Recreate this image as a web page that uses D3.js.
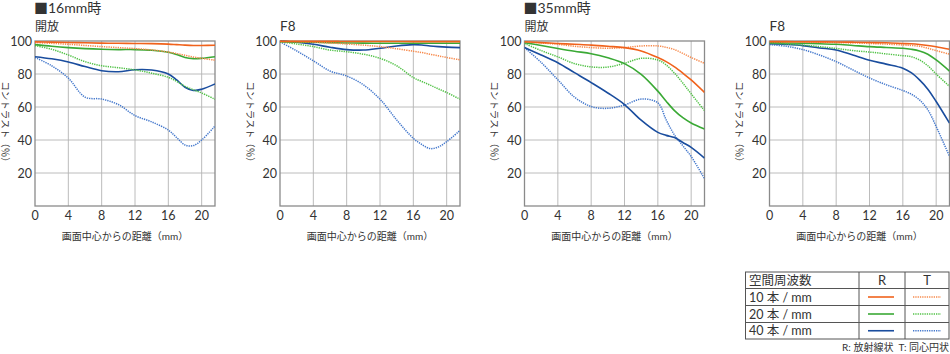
<!DOCTYPE html>
<html>
<head>
<meta charset="utf-8">
<script src="https://cdn.jsdelivr.net/npm/d3@7"></script>
<style>
    body { margin: 0; background: #fff; }
    text { font-family: Lato, "Noto Sans CJK JP", sans-serif; fill: #333; }
</style>
</head>
<body>
<script>
// distance from image centre (mm) where each curve was read
const distances = [0, 2, 4, 6, 8, 10, 12, 14, 16, 17, 18, 19, 20, 21.6];

// 16mm, wide open
const w16Open10R = [99.5, 99.3, 99.1, 98.9, 98.7, 98.6, 98.5, 98.4, 98.1, 97.8, 97.5, 97.3, 97.3, 97.4];
const w16Open10T = [99.0, 98.6, 98.0, 97.3, 96.6, 96.0, 95.4, 94.6, 93.3, 92.4, 91.3, 90.3, 89.5, 88.4];
const w16Open20R = [97.8, 96.8, 96.0, 95.4, 95.0, 94.8, 94.8, 94.4, 93.2, 91.8, 90.0, 89.3, 89.5, 90.5];
const w16Open20T = [97.2, 95.0, 91.5, 87.5, 85.0, 83.8, 82.5, 80.5, 78.0, 75.5, 72.5, 70.5, 68.5, 64.7];
const w16Open40R = [90.5, 89.2, 87.3, 84.5, 82.0, 81.4, 82.6, 82.4, 80.0, 76.4, 72.0, 70.0, 70.8, 74.0];
const w16Open40T = [90.0, 85.0, 77.5, 66.0, 64.8, 61.5, 54.8, 51.0, 46.0, 41.5, 37.0, 36.6, 40.0, 48.5];

// 16mm, F8
const w16F8_10R = [99.8, 99.8, 99.8, 99.8, 99.7, 99.7, 99.7, 99.7, 99.6, 99.6, 99.6, 99.6, 99.6, 99.6];
const w16F8_10T = [99.8, 99.6, 99.3, 98.8, 98.2, 97.5, 96.6, 95.3, 93.8, 93.0, 92.0, 91.0, 90.0, 88.6];
const w16F8_20R = [99.6, 99.4, 99.2, 99.0, 98.8, 98.7, 98.6, 98.6, 98.6, 98.6, 98.6, 98.6, 98.6, 98.6];
const w16F8_20T = [99.5, 98.2, 96.6, 94.5, 93.5, 92.0, 89.5, 85.0, 77.8, 75.5, 73.3, 71.0, 68.8, 64.7];
const w16F8_40R = [100, 99.2, 98.0, 96.2, 94.8, 94.5, 95.6, 97.0, 97.8, 97.6, 97.0, 96.6, 96.3, 96.0];
const w16F8_40T = [99.5, 94.0, 88.0, 81.8, 78.8, 73.5, 64.7, 52.2, 41.0, 37.3, 34.8, 35.8, 39.0, 45.8];

// 35mm, wide open
const w35Open10R = [99.5, 99.0, 98.5, 98.0, 97.5, 96.8, 96.0, 94.0, 90.0, 87.5, 84.3, 80.5, 76.4, 68.8];
const w35Open10T = [99.5, 98.8, 98.0, 96.8, 96.0, 95.6, 96.0, 97.0, 97.0, 96.2, 94.8, 92.5, 90.0, 86.5];
const w35Open20R = [99.0, 97.3, 95.5, 93.8, 92.3, 89.8, 86.3, 79.8, 69.6, 63.5, 57.8, 53.5, 50.3, 46.6];
const w35Open20T = [98.5, 94.2, 90.4, 86.3, 84.3, 84.2, 86.5, 89.5, 88.5, 85.5, 80.5, 74.5, 68.0, 57.8];
const w35Open40R = [96.0, 91.5, 86.8, 80.8, 74.8, 68.5, 61.5, 52.0, 44.6, 42.8, 41.5, 38.5, 35.5, 29.0];
const w35Open40T = [96.0, 87.0, 76.5, 66.0, 60.3, 59.2, 61.2, 64.8, 62.5, 52.2, 43.0, 36.5, 30.0, 16.5];

// 35mm, F8
const w35F8_10R = [99.6, 99.6, 99.5, 99.5, 99.4, 99.3, 99.1, 98.9, 98.5, 98.3, 97.9, 97.3, 96.5, 95.0];
const w35F8_10T = [99.5, 99.4, 99.3, 99.2, 99.0, 98.8, 98.5, 98.1, 97.6, 97.3, 96.8, 95.6, 94.2, 92.0];
const w35F8_20R = [99.0, 98.8, 98.6, 98.3, 98.0, 97.3, 96.6, 96.1, 95.6, 95.0, 94.0, 92.0, 88.5, 81.8];
const w35F8_20T = [98.6, 98.2, 97.5, 96.6, 95.5, 94.2, 93.3, 92.2, 91.1, 90.5, 88.5, 85.0, 80.0, 72.5];
const w35F8_40R = [98.3, 97.9, 97.2, 95.8, 94.6, 91.5, 88.3, 86.0, 83.5, 80.8, 76.4, 70.8, 63.3, 50.2];
const w35F8_40T = [97.8, 96.8, 94.8, 91.5, 87.5, 82.5, 77.6, 73.5, 70.0, 67.8, 64.3, 58.3, 48.2, 30.0];

const xTicks = [0, 4, 8, 12, 16, 20];
const yTicks = [20, 40, 60, 80, 100];
const freqRows = ["10 本 / mm", "20 本 / mm", "40 本 / mm"];

const panels = [
    { heading: "■16mm時", sub: "開放", left: 35, series: [w16Open10R, w16Open10T, w16Open20R, w16Open20T, w16Open40R, w16Open40T] },
    { heading: "", sub: "F8", left: 280, series: [w16F8_10R, w16F8_10T, w16F8_20R, w16F8_20T, w16F8_40R, w16F8_40T] },
    { heading: "■35mm時", sub: "開放", left: 524.5, series: [w35Open10R, w35Open10T, w35Open20R, w35Open20T, w35Open40R, w35Open40T] },
    { heading: "", sub: "F8", left: 769.5, series: [w35F8_10R, w35F8_10T, w35F8_20R, w35F8_20T, w35F8_40R, w35F8_40T] }
];

// colours for 10, 20, 40 lp/mm
const solidColors = ["#f0621c", "#3aa935", "#1a4d9e"];
const dotColors = ["#f78a4c", "#52c247", "#4478cc"];

const width = 950;
const height = 354;
const plotW = 180;
const plotTop = 41;
const plotBottom = 206;

const svg = d3.create("svg")
    .attr("width", width)
    .attr("height", height);

const y = d3.scaleLinear().domain([0, 100]).range([plotBottom, plotTop]);

const line = d3.line().curve(d3.curveCatmullRom.alpha(0.5));

panels.forEach((p, pi) => {
    const x = d3.scaleLinear().domain([0, 21.6]).range([p.left, p.left + plotW]);
    const g = svg.append("g");

    if (p.heading) {
        g.append("text")
            .attr("x", p.left - 1)
            .attr("y", 13)
            .attr("font-size", "14px")
            .attr("fill", "#222")
            .text(p.heading);
    }
    g.append("text")
        .attr("x", p.left)
        .attr("y", 31)
        .attr("font-size", p.sub === "F8" ? "13.5px" : "12px")
        .text(p.sub);

    // grid
    g.selectAll(".vgrid")
        .data(xTicks.filter(d => d > 0))
        .join("line")
        .attr("x1", d => x(d)).attr("x2", d => x(d))
        .attr("y1", plotTop).attr("y2", plotBottom)
        .attr("stroke", "#b4b4b4")
        .attr("stroke-width", 0.9);
    g.selectAll(".hgrid")
        .data(yTicks.filter(d => d < 100))
        .join("line")
        .attr("x1", p.left).attr("x2", p.left + plotW)
        .attr("y1", d => y(d)).attr("y2", d => y(d))
        .attr("stroke", "#b4b4b4")
        .attr("stroke-width", 0.9);

    // frame
    g.append("rect")
        .attr("x", p.left).attr("y", plotTop)
        .attr("width", plotW).attr("height", plotBottom - plotTop)
        .attr("fill", "none")
        .attr("stroke", "#8a8a8a")
        .attr("stroke-width", 1.3);

    // tick labels
    g.selectAll(".ylab")
        .data(yTicks)
        .join("text")
        .attr("x", p.left - 3)
        .attr("y", d => y(d) + 4.5)
        .attr("text-anchor", "end")
        .attr("font-size", "12.5px")
        .text(d => d);
    g.selectAll(".xlab")
        .data(xTicks)
        .join("text")
        .attr("x", d => x(d))
        .attr("y", 220)
        .attr("text-anchor", "middle")
        .attr("font-size", "12.5px")
        .text(d => d);

    g.append("text")
        .attr("x", p.left + plotW / 2)
        .attr("y", 240)
        .attr("text-anchor", "middle")
        .attr("font-size", "10px")
        .text("画面中心からの距離（mm）");

    g.append("text")
        .attr("transform", `translate(${p.left - 30},124) rotate(90)`)
        .attr("text-anchor", "middle")
        .attr("dy", "0.35em")
        .attr("font-size", "9.5px")
        .text("コントラスト（％）");

    // curves, clipped to the plot box
    const clipId = "clip" + pi;
    svg.append("clipPath").attr("id", clipId)
        .append("rect")
        .attr("x", p.left).attr("y", plotTop - 2)
        .attr("width", plotW).attr("height", plotBottom - plotTop + 2);

    const curves = g.append("g").attr("clip-path", `url(#${clipId})`);
    [2, 1, 0].forEach(f => {
        const tVals = p.series[f * 2 + 1];
        const rVals = p.series[f * 2];
        curves.append("path")
            .attr("d", line(distances.map((d, i) => [x(d), y(tVals[i])])))
            .attr("fill", "none")
            .attr("stroke", dotColors[f])
            .attr("stroke-width", 1.5)
            .attr("stroke-dasharray", "1.3,1");
        curves.append("path")
            .attr("d", line(distances.map((d, i) => [x(d), y(rVals[i])])))
            .attr("fill", "none")
            .attr("stroke", solidColors[f])
            .attr("stroke-width", 1.6);
    });
});

// legend table
const lg = svg.append("g");
const tLeft = 745.5, tRight = 949, colR = 859, colT = 905;
const rowY = [272, 288.5, 305.5, 322.5, 339];

lg.append("rect")
    .attr("x", tLeft).attr("y", rowY[0])
    .attr("width", tRight - tLeft).attr("height", rowY[4] - rowY[0])
    .attr("fill", "none").attr("stroke", "#555").attr("stroke-width", 1);
lg.selectAll(".rowline")
    .data(rowY.slice(1, 4))
    .join("line")
    .attr("x1", tLeft).attr("x2", tRight)
    .attr("y1", d => d).attr("y2", d => d)
    .attr("stroke", "#555");
lg.selectAll(".colline")
    .data([colR, colT])
    .join("line")
    .attr("x1", d => d).attr("x2", d => d)
    .attr("y1", rowY[0]).attr("y2", rowY[4])
    .attr("stroke", "#555");

lg.append("text").attr("x", 749).attr("y", 285).attr("font-size", "12.5px").text("空間周波数");
lg.append("text").attr("x", (colR + colT) / 2).attr("y", 285).attr("text-anchor", "middle").attr("font-size", "13px").text("R");
lg.append("text").attr("x", (colT + tRight) / 2).attr("y", 285).attr("text-anchor", "middle").attr("font-size", "13px").text("T");

freqRows.forEach((label, i) => {
    const top = rowY[i + 1], bottom = rowY[i + 2];
    const mid = (top + bottom) / 2;
    lg.append("text").attr("x", 749).attr("y", bottom - 4).attr("font-size", "12.5px").text(label);
    lg.append("line")
        .attr("x1", 868).attr("x2", 894)
        .attr("y1", mid).attr("y2", mid)
        .attr("stroke", solidColors[i]).attr("stroke-width", 1.6);
    lg.append("line")
        .attr("x1", 913).attr("x2", 941)
        .attr("y1", mid).attr("y2", mid)
        .attr("stroke", dotColors[i]).attr("stroke-width", 1.5)
        .attr("stroke-dasharray", "1.3,1");
});

lg.append("text")
    .attr("x", 949).attr("y", 351)
    .attr("text-anchor", "end")
    .attr("font-size", "10px")
    .text("R: 放射線状\u00a0\u00a0T: 同心円状");

document.body.appendChild(svg.node());
</script>
</body>
</html>
